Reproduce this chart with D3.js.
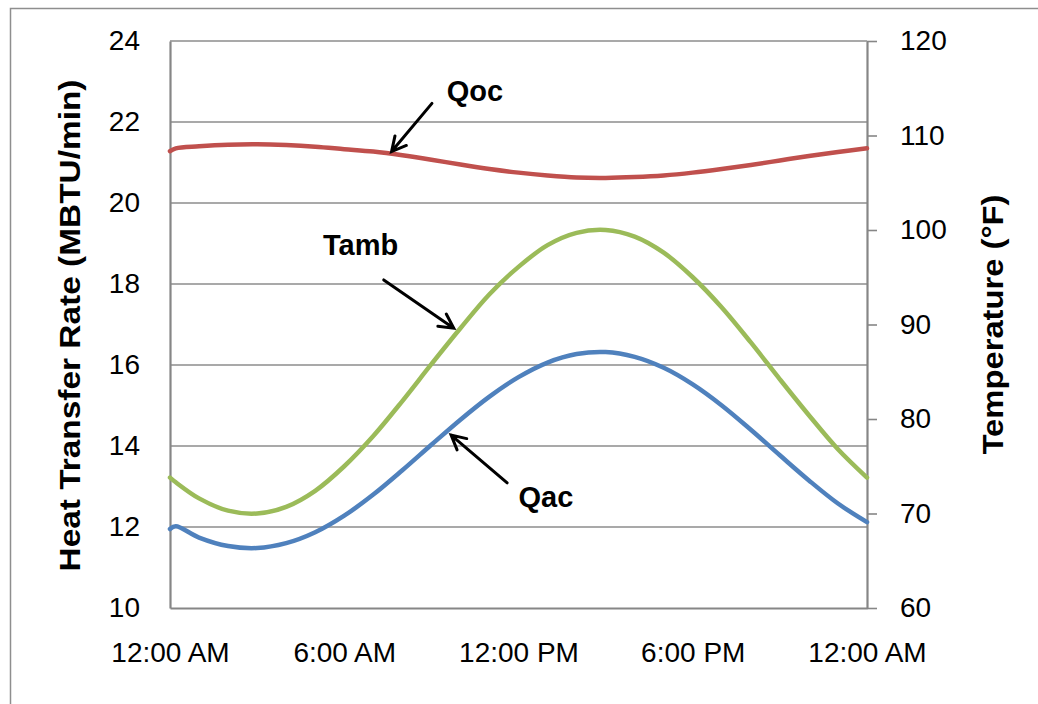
<!DOCTYPE html>
<html>
<head>
<meta charset="utf-8">
<script src="https://cdn.jsdelivr.net/npm/d3@7"></script>
<style>
  html, body { margin: 0; padding: 0; background: #fff; }
  svg { display: block; }
  text { font-family: "Liberation Sans", Arial, sans-serif; fill: #000; }
</style>
</head>
<body>
<svg id="chart" width="1038" height="704"></svg>
<script>
// Hour of day for each sample (0 = midnight, 24 = next midnight)
const hours = [0, 0.2, 1, 2, 3, 4, 5, 6, 7, 8, 9, 10, 11, 12,
               13, 14, 15, 16, 17, 18, 19, 20, 21, 22, 23, 24];

// Outdoor-coil heat rate, MBTU/min (left axis)
const qoc = [21.28, 21.35, 21.40, 21.44, 21.45, 21.43, 21.39, 21.33, 21.27, 21.18,
             21.07, 20.95, 20.84, 20.75, 20.68, 20.63, 20.62, 20.64, 20.68, 20.75,
             20.84, 20.94, 21.05, 21.16, 21.26, 21.35];

// Air-conditioner heat rate, MBTU/min (left axis)
const qac = [11.95, 12.02, 11.74, 11.53, 11.48, 11.60, 11.87, 12.28, 12.80, 13.40,
             14.03, 14.65, 15.22, 15.70, 16.06, 16.27, 16.32, 16.20, 15.93, 15.52,
             15.00, 14.40, 13.77, 13.15, 12.58, 12.12];

// Ambient temperature, °F (right axis)
const tamb = [73.8, 73.3, 71.6, 70.3, 70.0, 70.7, 72.4, 75.0, 78.2, 81.9,
              85.8, 89.6, 93.2, 96.1, 98.4, 99.7, 100.0, 99.3, 97.6, 95.0,
              91.8, 88.1, 84.2, 80.4, 76.8, 73.8];

const xTickHours = [0, 6, 12, 18, 24];
const xTickLabels = ["12:00 AM", "6:00 AM", "12:00 PM", "6:00 PM", "12:00 AM"];
const leftTicks = [10, 12, 14, 16, 18, 20, 22, 24];
const rightTicks = [60, 70, 80, 90, 100, 110, 120];

const leftTitle = "Heat Transfer Rate (MBTU/min)";
const rightTitle = "Temperature (°F)";

// Callouts: label and arrow, placed in data units (hour, left-axis value)
const callouts = [
  { text: "Qoc",  label: [9.53, 22.52], tail: [9.02, 22.46], tip: [7.63, 21.27] },
  { text: "Tamb", label: [5.27, 18.72], tail: [7.36, 18.10], tip: [9.77, 16.91] },
  { text: "Qac",  label: [12.0, 12.49], tail: [11.61, 13.09], tip: [9.68, 14.27] }
];

const colors = { qoc: "#C0504D", qac: "#4F81BD", tamb: "#9BBB59" };
const gridColor = "#8C8C8C";
const axisColor = "#868686";

const svg = d3.select("#chart");

// Chart frame
svg.append("path")
  .attr("d", "M10.5,704 L10.5,8.5 L1038,8.5")
  .attr("fill", "none").attr("stroke", "#8E8E8E").attr("stroke-width", 1.5);

const plot = { left: 170, right: 867, top: 41, bottom: 608 };

const x = d3.scaleLinear().domain([0, 24]).range([plot.left, plot.right]);
const yL = d3.scaleLinear().domain([10, 24]).range([plot.bottom, plot.top]);
const yR = d3.scaleLinear().domain([60, 120]).range([plot.bottom, plot.top]);

// Horizontal gridlines
svg.append("g").selectAll("line").data(leftTicks.slice(1)).join("line")
  .attr("x1", plot.left).attr("x2", plot.right)
  .attr("y1", d => yL(d)).attr("y2", d => yL(d))
  .attr("stroke", gridColor).attr("stroke-width", 1.6);

// Left axis
const gLeft = svg.append("g").attr("transform", `translate(${plot.left},0)`)
  .call(d3.axisLeft(yL).tickValues(leftTicks).tickSize(0).tickPadding(30).tickFormat(d3.format("d")));
gLeft.select(".domain").attr("stroke", axisColor).attr("stroke-width", 2.2);
gLeft.selectAll(".tick text").attr("font-size", 28).style("font-family", "Liberation Sans, Arial, sans-serif").attr("fill", "#000");

// Right axis
const gRight = svg.append("g").attr("transform", `translate(${plot.right},0)`)
  .call(d3.axisRight(yR).tickValues(rightTicks).tickSize(10).tickPadding(23).tickSizeOuter(0).tickFormat(d3.format("d")));
gRight.select(".domain").attr("stroke", axisColor).attr("stroke-width", 2.2);
gRight.selectAll(".tick line").attr("stroke", axisColor).attr("stroke-width", 1.6);
gRight.selectAll(".tick text").attr("font-size", 28).style("font-family", "Liberation Sans, Arial, sans-serif").attr("fill", "#000");

// Bottom axis
const gBottom = svg.append("g").attr("transform", `translate(0,${plot.bottom})`)
  .call(d3.axisBottom(x).tickValues(xTickHours).tickSize(0).tickPadding(34)
    .tickFormat((d, i) => xTickLabels[i]));
gBottom.select(".domain").attr("stroke", axisColor).attr("stroke-width", 2.2);
gBottom.selectAll(".tick text").attr("font-size", 28).style("font-family", "Liberation Sans, Arial, sans-serif").attr("fill", "#000");

// Series lines
const curve = d3.curveCatmullRom.alpha(0.5);
const lineL = d3.line().x((d, i) => x(hours[i])).y(d => yL(d)).curve(curve);
const lineR = d3.line().x((d, i) => x(hours[i])).y(d => yR(d)).curve(curve);

const series = svg.append("g").attr("fill", "none").attr("stroke-width", 4.5)
  .attr("stroke-linecap", "round").attr("stroke-linejoin", "round");
series.append("path").attr("d", lineL(qoc)).attr("stroke", colors.qoc);
series.append("path").attr("d", lineR(tamb)).attr("stroke", colors.tamb);
series.append("path").attr("d", lineL(qac)).attr("stroke", colors.qac);

// Axis titles
svg.append("text")
  .attr("transform", `translate(80,${(plot.top + plot.bottom) / 2 + 1}) rotate(-90)`)
  .attr("text-anchor", "middle").attr("font-size", 30).attr("font-weight", "bold")
  .attr("textLength", 492).attr("lengthAdjust", "spacingAndGlyphs")
  .text(leftTitle);

svg.append("text")
  .attr("transform", `translate(1003,${(plot.top + plot.bottom) / 2}) rotate(-90)`)
  .attr("text-anchor", "middle").attr("font-size", 30).attr("font-weight", "bold")
  .attr("textLength", 260).attr("lengthAdjust", "spacingAndGlyphs")
  .text(rightTitle);

// Callout arrows and labels
const arrowHead = 16;
const gCall = svg.append("g");
callouts.forEach(c => {
  const x0 = x(c.tail[0]), y0 = yL(c.tail[1]);
  const x1 = x(c.tip[0]), y1 = yL(c.tip[1]);
  const ang = Math.atan2(y1 - y0, x1 - x0);
  const spread = Math.PI / 6.5;
  const hx1 = x1 - arrowHead * Math.cos(ang - spread), hy1 = y1 - arrowHead * Math.sin(ang - spread);
  const hx2 = x1 - arrowHead * Math.cos(ang + spread), hy2 = y1 - arrowHead * Math.sin(ang + spread);
  gCall.append("path")
    .attr("d", `M${x0},${y0}L${x1},${y1}M${hx1},${hy1}L${x1},${y1}L${hx2},${hy2}`)
    .attr("fill", "none").attr("stroke", "#000").attr("stroke-width", 3)
    .attr("stroke-linecap", "round").attr("stroke-linejoin", "miter");
  gCall.append("text")
    .attr("x", x(c.label[0])).attr("y", yL(c.label[1]))
    .attr("font-size", 29).attr("font-weight", "bold")
    .text(c.text);
});
</script>
</body>
</html>
